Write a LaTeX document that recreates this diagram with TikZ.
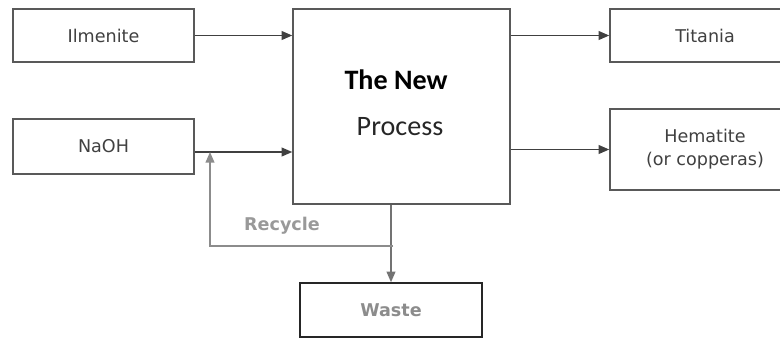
\documentclass[tikz,border=0pt]{standalone}
\usepackage{fontspec}
\setmainfont{DejaVu Sans}
\newfontfamily\calib{Carlito}
\usetikzlibrary{arrows.meta}
\tikzset{
  flowbox/.style={draw=black!65, line width=0.9pt, rectangle, inner sep=0pt, font=\fontsize{10}{13}\selectfont, text=black!75, align=center},
  flowline/.style={draw=black!75, line width=0.8pt},
  flowarrow/.style={flowline, -{Triangle[length=6pt,width=5pt]}},
}
\begin{document}
\begin{tikzpicture}[x=0.02cm, y=-0.02cm]
			%%%%% START %%%%%
			\useasboundingbox (0, 0) rectangle (780, 339);
			\clip (0, 0) rectangle (780, 339);
			
			\node[flowbox, minimum width=3.62cm, minimum height=1.06cm] (ilm) at (103.5, 35.5) {Ilmenite};
			\node[flowbox, minimum width=3.62cm, minimum height=1.1cm] (naoh) at (103.5, 146.5) {NaOH};
			\node[flowbox, minimum width=4.34cm, minimum height=3.9cm] (proc) at (401.5, 106.5) {};
			\node[font=\calib\fontsize{16}{19}\selectfont\bfseries, text=black] (procA) at (396, 80) {The New};
			\node[font=\calib\fontsize{16}{19}\selectfont, text=black!85] (procB) at (400, 127) {Process};
			
			\node[flowbox, minimum width=3.8cm, minimum height=1.06cm] (ti) at (705, 35.5) {Titania};
			\node[flowbox, minimum width=3.8cm, minimum height=1.62cm] (hem) at (705, 149.5) {Hematite\\(or copperas)};
			\node[flowbox, draw=black!85, minimum width=3.64cm, minimum height=1.08cm, text=black!45, font=\fontsize{10}{13}\selectfont\bfseries] (wst) at (391, 310) {Waste};
			
			\coordinate (j) at (210, 152);
			\coordinate (rc) at (393, 246);
			
			\draw[flowarrow] (ilm.east) -- (proc.west |- ilm.east);
			\draw[flowarrow] (naoh.east |- j) -- (proc.west |- j);
			\draw[flowarrow] (proc.east |- ti.west) -- (ti.west);
			\draw[flowarrow] (proc.east |- hem.west) -- (hem.west);
			\draw[flowarrow, draw=black!55] (proc.south -| wst.north) -- (wst.north);
			\draw[flowarrow, draw=black!45] (rc) -| (j);
			
			\node[font=\fontsize{10}{13}\selectfont\bfseries, text=black!40] (rlab) at (282, 226) {Recycle};
			%%%%% END %%%%%
		\end{tikzpicture}
\end{document}
